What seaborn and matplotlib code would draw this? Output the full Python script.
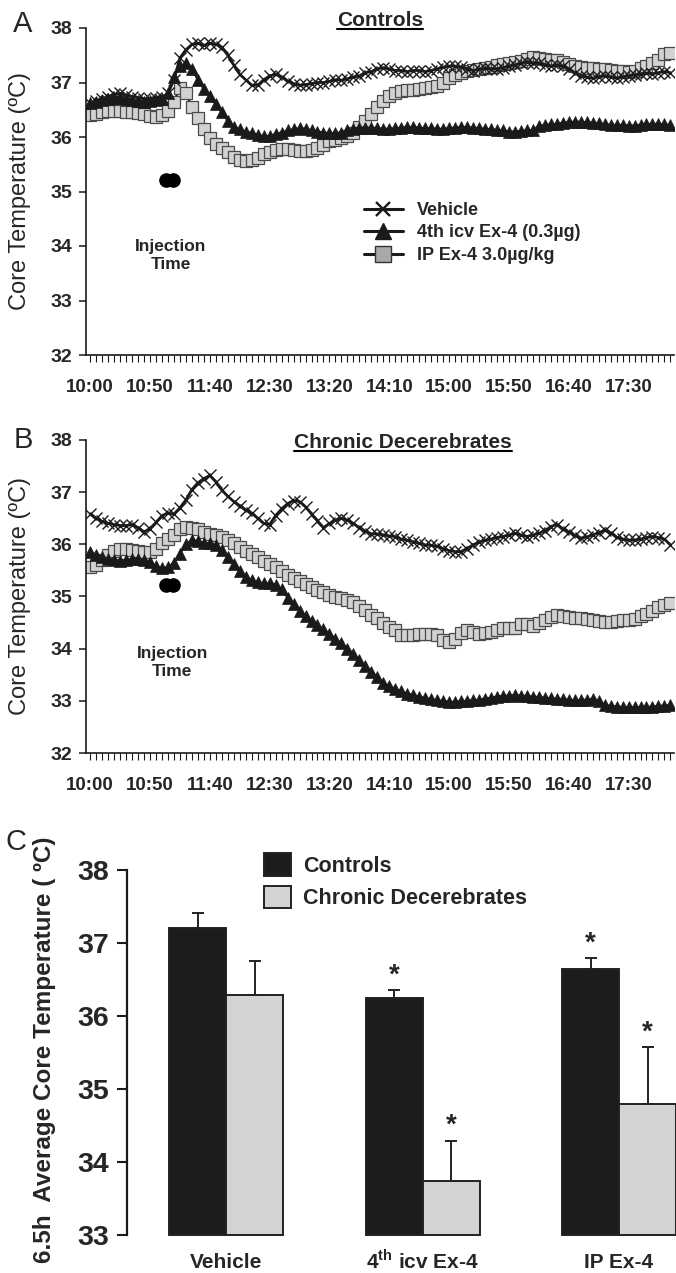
import numpy as np
import pandas as pd
import matplotlib
matplotlib.use("Agg")
import matplotlib.pyplot as plt
import seaborn as sns
from matplotlib.lines import Line2D
from matplotlib.patches import Patch

# ---------------- data ----------------
minutes = list(range(0, 490, 5))  # minutes after 10:00
label_minutes = [0, 50, 100, 150, 200, 250, 300, 350, 400, 450]
time_labels = ["10:00", "10:50", "11:40", "12:30", "13:20", "14:10",
               "15:00", "15:50", "16:40", "17:30"]

ctrl_vehicle = [36.62, 36.66, 36.70, 36.74, 36.78, 36.80, 36.77, 36.74, 36.72, 36.70,
                36.70, 36.72, 36.73, 36.80, 37.05, 37.45, 37.60, 37.70, 37.72, 37.68,
                37.72, 37.70, 37.65, 37.50, 37.32, 37.15, 37.05, 36.95, 36.95, 37.05,
                37.12, 37.15, 37.10, 37.03, 36.98, 36.95, 36.96, 36.98, 37.00, 37.00,
                37.02, 37.05, 37.04, 37.07, 37.10, 37.12, 37.18, 37.20, 37.25, 37.27,
                37.25, 37.22, 37.22, 37.20, 37.22, 37.22, 37.20, 37.22, 37.25, 37.28,
                37.30, 37.30, 37.28, 37.25, 37.22, 37.24, 37.26, 37.25, 37.25, 37.27,
                37.30, 37.32, 37.35, 37.38, 37.36, 37.35, 37.33, 37.30, 37.32, 37.30,
                37.25, 37.18, 37.12, 37.10, 37.08, 37.10, 37.12, 37.10, 37.08, 37.10,
                37.12, 37.14, 37.15, 37.17, 37.16, 37.18, 37.20, 37.18]

ctrl_icv = [36.62, 36.65, 36.68, 36.70, 36.72, 36.72, 36.70, 36.68, 36.66, 36.65,
            36.66, 36.68, 36.70, 36.80, 37.10, 37.30, 37.35, 37.25, 37.05, 36.88,
            36.75, 36.60, 36.45, 36.30, 36.18, 36.14, 36.10, 36.07, 36.04, 36.01,
            36.02, 36.05, 36.08, 36.12, 36.14, 36.16, 36.15, 36.12, 36.10, 36.08,
            36.07, 36.07, 36.08, 36.12, 36.15, 36.17, 36.17, 36.17, 36.16, 36.15,
            36.15, 36.16, 36.17, 36.18, 36.18, 36.17, 36.16, 36.16, 36.15, 36.15,
            36.16, 36.17, 36.18, 36.18, 36.17, 36.16, 36.15, 36.14, 36.13, 36.12,
            36.10, 36.10, 36.11, 36.12, 36.13, 36.20, 36.22, 36.23, 36.24, 36.26,
            36.27, 36.28, 36.28, 36.27, 36.26, 36.25, 36.24, 36.22, 36.22, 36.22,
            36.21, 36.21, 36.22, 36.23, 36.24, 36.24, 36.23, 36.22]

ctrl_ip = [36.40, 36.43, 36.46, 36.48, 36.48, 36.47, 36.46, 36.46, 36.44, 36.42,
           36.38, 36.36, 36.40, 36.48, 36.65, 36.90, 36.80, 36.55, 36.35, 36.15,
           35.98, 35.88, 35.80, 35.72, 35.64, 35.58, 35.56, 35.57, 35.62, 35.68,
           35.72, 35.76, 35.78, 35.78, 35.76, 35.74, 35.74, 35.76, 35.80, 35.86,
           35.92, 35.95, 35.98, 36.02, 36.08, 36.18, 36.30, 36.42, 36.55, 36.66,
           36.75, 36.80, 36.84, 36.86, 36.87, 36.88, 36.89, 36.91, 36.94, 37.00,
           37.08, 37.14, 37.18, 37.21, 37.23, 37.25, 37.27, 37.29, 37.32, 37.34,
           37.36, 37.38, 37.40, 37.44, 37.46, 37.45, 37.44, 37.42, 37.41, 37.38,
           37.34, 37.30, 37.28, 37.27, 37.26, 37.25, 37.24, 37.23, 37.22, 37.21,
           37.20, 37.22, 37.26, 37.30, 37.35, 37.42, 37.52, 37.55]

dec_vehicle = [36.58, 36.50, 36.44, 36.40, 36.38, 36.36, 36.36, 36.38, 36.32, 36.24,
               36.30, 36.42, 36.55, 36.60, 36.58, 36.70, 36.85, 37.05, 37.18, 37.26,
               37.32, 37.20, 37.04, 36.92, 36.82, 36.74, 36.66, 36.60, 36.50, 36.40,
               36.38, 36.55, 36.68, 36.78, 36.84, 36.82, 36.72, 36.58, 36.45, 36.32,
               36.40, 36.46, 36.50, 36.46, 36.40, 36.32, 36.25, 36.20, 36.20, 36.18,
               36.16, 36.15, 36.10, 36.08, 36.05, 36.02, 35.99, 35.98, 35.96, 35.92,
               35.88, 35.86, 35.86, 35.92, 35.99, 36.04, 36.08, 36.10, 36.13, 36.15,
               36.18, 36.21, 36.18, 36.15, 36.18, 36.21, 36.26, 36.34, 36.38, 36.30,
               36.24, 36.17, 36.12, 36.14, 36.18, 36.22, 36.27, 36.22, 36.14, 36.10,
               36.08, 36.08, 36.10, 36.13, 36.15, 36.13, 36.10, 35.99]

dec_icv = [35.86, 35.80, 35.75, 35.72, 35.70, 35.69, 35.70, 35.72, 35.72, 35.70,
           35.66, 35.58, 35.54, 35.56, 35.65, 35.82, 36.00, 36.08, 36.06, 36.02,
           36.02, 35.98, 35.90, 35.76, 35.62, 35.48, 35.38, 35.31, 35.27, 35.25,
           35.25, 35.22, 35.14, 34.98, 34.85, 34.72, 34.62, 34.53, 34.45, 34.38,
           34.28, 34.18, 34.10, 34.00, 33.90, 33.78, 33.66, 33.55, 33.45, 33.35,
           33.28, 33.23, 33.18, 33.14, 33.11, 33.08, 33.05, 33.03, 33.01, 32.99,
           32.98, 32.98, 32.99, 33.00, 33.01, 33.02, 33.04, 33.06, 33.08, 33.09,
           33.10, 33.11, 33.10, 33.09, 33.08, 33.07, 33.06, 33.05, 33.04, 33.03,
           33.02, 33.01, 33.01, 33.02, 33.04, 33.00, 32.92, 32.90, 32.89, 32.88,
           32.88, 32.88, 32.88, 32.88, 32.89, 32.90, 32.91, 32.92]

dec_ip = [35.57, 35.60, 35.70, 35.80, 35.88, 35.92, 35.91, 35.89, 35.87, 35.86,
          35.86, 35.92, 36.02, 36.10, 36.18, 36.30, 36.34, 36.32, 36.29, 36.24,
          36.20, 36.17, 36.14, 36.08, 36.02, 35.95, 35.88, 35.82, 35.76, 35.69,
          35.62, 35.56, 35.49, 35.41, 35.35, 35.30, 35.24, 35.18, 35.13, 35.08,
          35.03, 34.99, 34.97, 34.94, 34.89, 34.82, 34.74, 34.65, 34.58, 34.50,
          34.42, 34.35, 34.27, 34.26, 34.27, 34.29, 34.29, 34.29, 34.27, 34.16,
          34.13, 34.19, 34.30, 34.35, 34.32, 34.29, 34.30, 34.32, 34.36, 34.39,
          34.40, 34.39, 34.48, 34.47, 34.44, 34.50, 34.55, 34.61, 34.64, 34.62,
          34.61, 34.59, 34.58, 34.56, 34.55, 34.53, 34.51, 34.51, 34.53, 34.55,
          34.55, 34.56, 34.62, 34.67, 34.73, 34.79, 34.84, 34.88]

injection_minutes = [63, 69]
injection_temp = [35.22, 35.22]

treatments = ["Vehicle", "4th icv Ex-4", "IP Ex-4"]
treatment_labels = ["Vehicle", r"4$^{\mathbf{th}}$ icv Ex-4", "IP Ex-4"]
groups = ["Controls", "Chronic Decerebrates"]
ctrl_mean = [37.21, 36.24, 36.64]
ctrl_sem = [0.20, 0.11, 0.15]
dec_mean = [36.29, 33.74, 34.79]
dec_sem = [0.47, 0.55, 0.78]
ctrl_sig = [False, True, True]
dec_sig = [False, True, True]

series_names = ["Vehicle", "4th icv Ex-4 (0.3\u00b5g)", "IP Ex-4 3.0\u00b5g/kg"]

# ---------------- style ----------------
sns.set_style("ticks")
plt.rcParams['font.family'] = ['Liberation Sans', 'DejaVu Sans']
plt.rcParams['mathtext.fontset'] = 'custom'
plt.rcParams['mathtext.rm'] = 'Liberation Sans'
plt.rcParams['mathtext.bf'] = 'Liberation Sans:bold'
plt.rcParams['axes.edgecolor'] = '#1a1a1a'

W, H = 676, 1273
fig = plt.figure(figsize=(W / 100, H / 100), dpi=100)


def rect(l, t, r, b):
    return [l / W, 1 - b / H, (r - l) / W, (b - t) / H]


axA = fig.add_axes(rect(86, 28, 674, 355))
axB = fig.add_axes(rect(86, 440, 674, 753))
axC = fig.add_axes(rect(127, 870, 676, 1235))

DARK = '#1a1a1a'


def time_panel(ax, veh, icv, ip):
    df = pd.DataFrame({'min': minutes, 'veh': veh, 'icv': icv, 'ip': ip})
    sns.lineplot(data=df, x='min', y='ip', ax=ax, color=DARK, lw=1.6,
                 marker='s', markersize=8.3, markerfacecolor='#d2d2d2',
                 markeredgecolor='#4a4a4a', markeredgewidth=0.9, zorder=2)
    sns.lineplot(data=df, x='min', y='icv', ax=ax, color=DARK, lw=1.6,
                 marker='^', markersize=9.2, markerfacecolor=DARK,
                 markeredgecolor=DARK, markeredgewidth=0.5, zorder=3)
    sns.lineplot(data=df, x='min', y='veh', ax=ax, color=DARK, lw=2.0,
                 marker='x', markersize=8.8, markerfacecolor=DARK,
                 markeredgecolor=DARK, markeredgewidth=1.0, zorder=4)
    ax.plot(injection_minutes, injection_temp, 'o', color='black',
            markersize=9.5, zorder=5)
    ax.set_xlim(-3.5, 488)
    ax.set_ylim(32, 38)
    ax.set_xticks(label_minutes)
    ax.set_xticklabels(time_labels, fontweight='bold', fontsize=13.5)
    ax.set_xticks(minutes, minor=True)
    ax.set_yticks(range(32, 39))
    ax.set_yticklabels([str(v) for v in range(32, 39)], fontweight='bold', fontsize=14)
    ax.tick_params(axis='x', which='both', length=5, width=0.8, direction='out',
                   color=DARK)
    ax.tick_params(axis='x', which='major', pad=12)
    ax.tick_params(axis='y', length=5, width=1.1, pad=5, color=DARK)
    ax.set_xlabel('')
    ax.set_ylabel('')
    for s in ['left', 'bottom']:
        ax.spines[s].set_linewidth(1.2)
    sns.despine(ax=ax)


time_panel(axA, ctrl_vehicle, ctrl_icv, ctrl_ip)
time_panel(axB, dec_vehicle, dec_icv, dec_ip)

axA.text(67.5, 33.82, "Injection\nTime", ha='center', va='center',
         fontweight='bold', fontsize=12.5, linespacing=1.25)
axB.text(68.5, 33.73, "Injection\nTime", ha='center', va='center',
         fontweight='bold', fontsize=12.5, linespacing=1.25)

# legend panel A
handles = [
    Line2D([], [], color=DARK, lw=2.2, marker='x', markersize=10.5, markeredgewidth=1.7),
    Line2D([], [], color=DARK, lw=2.2, marker='^', markersize=11.5, markerfacecolor=DARK),
    Line2D([], [], color=DARK, lw=2.2, marker='s', markersize=11.5,
           markerfacecolor='#a9a9a9', markeredgecolor='#333333'),
]
axA.legend(handles, series_names, loc='upper left', bbox_to_anchor=(364 / W, 1 - 202 / H),
           bbox_transform=fig.transFigure, frameon=False, prop={'weight': 'bold', 'size': 13},
           handlelength=2.15, handletextpad=0.8, labelspacing=0.3, borderpad=0,
           borderaxespad=0)

# panel letters, y labels, titles
fig.text(23 / W, 1 - 24 / H, "A", fontsize=21, ha='center', va='center')
fig.text(23 / W, 1 - 440 / H, "B", fontsize=21, ha='center', va='center')
fig.text(16 / W, 1 - 842 / H, "C", fontsize=21, ha='center', va='center')
fig.text(20 / W, 1 - 191 / H, "Core Temperature (\u00baC)", fontsize=17, rotation=90,
         ha='center', va='center')
fig.text(20 / W, 1 - 596 / H, "Core Temperature (\u00baC)", fontsize=17, rotation=90,
         ha='center', va='center')
tA = fig.text(380 / W, 1 - 21 / H, "Controls", fontsize=15, fontweight='bold',
              ha='center', va='center')
tB = fig.text(403 / W, 1 - 443 / H, "Chronic Decerebrates", fontsize=15,
              fontweight='bold', ha='center', va='center')

# ---------------- panel C ----------------
dfc = pd.DataFrame({
    'Treatment': treatments * 2,
    'Group': [groups[0]] * 3 + [groups[1]] * 3,
    'Temp': ctrl_mean + dec_mean,
})
palette = {groups[0]: '#1c1c1c', groups[1]: '#d1d3d4'}
sns.barplot(data=dfc, x='Treatment', y='Temp', hue='Group', order=treatments,
            hue_order=groups, palette=palette, width=0.58, errorbar=None,
            edgecolor='#222222', linewidth=1.4, ax=axC, legend=False, zorder=2)
bars = sorted([p for p in axC.patches if p.get_height() > 0], key=lambda p: p.get_x())
means = [v for pair in zip(ctrl_mean, dec_mean) for v in pair]
sems = [v for pair in zip(ctrl_sem, dec_sem) for v in pair]
sigs = [v for pair in zip(ctrl_sig, dec_sig) for v in pair]
xs = []
for p in bars:
    h = p.get_height()
    p.set_y(33)
    p.set_height(h - 33)
    p.set_clip_on(False)
    xs.append(p.get_x() + p.get_width() / 2)
axC.errorbar(xs, means, yerr=[[0] * len(sems), sems], fmt='none', ecolor='#222222',
             elinewidth=1.4, capsize=4, capthick=1.4, zorder=1)
for x, m, s, sg in zip(xs, means, sems, sigs):
    if sg:
        axC.text(x, m + s + 0.03, "*", ha='center', va='bottom', fontsize=20,
                 fontweight='bold')
axC.set_xlim(-0.505, 2.29)
axC.set_ylim(33, 38)
axC.set_yticks(range(33, 39))
axC.set_yticklabels([str(v) for v in range(33, 39)], fontweight='bold', fontsize=20.5)
axC.set_xticks(range(len(treatments)))
axC.set_xticklabels(treatment_labels, fontweight='bold', fontsize=15)
for lbl in axC.get_xticklabels():
    lbl.set_verticalalignment('baseline')
axC.tick_params(axis='x', length=0, pad=24)
axC.tick_params(axis='y', length=7, width=1.5, pad=6, color=DARK)
axC.set_xlabel('')
axC.set_ylabel('')
axC.spines['left'].set_linewidth(1.6)
sns.despine(ax=axC, bottom=True)
leg_handles = [Patch(facecolor=palette[g], edgecolor='#222222', linewidth=1.4) for g in groups]
axC.legend(leg_handles, groups, loc='upper left', bbox_to_anchor=(264 / W, 1 - 853 / H),
           bbox_transform=fig.transFigure, frameon=False,
           prop={'weight': 'bold', 'size': 15.5}, handlelength=1.25, handleheight=1.25,
           handletextpad=0.55, labelspacing=0.42, borderpad=0, borderaxespad=0)
fig.text(45 / W, 1 - 1050 / H, "6.5h  Average Core Temperature ( \u00baC)", fontsize=17.5,
         fontweight='bold', rotation=90, ha='center', va='center')

# underline titles
fig.canvas.draw()
r = fig.canvas.get_renderer()
for t in (tA, tB):
    bb = t.get_window_extent(r)
    y = (bb.y0 + 1.5) / H
    fig.add_artist(Line2D([bb.x0 / W, bb.x1 / W], [y, y], color='black', lw=1.5,
                          transform=fig.transFigure))

fig.savefig("out.png", dpi=100)
